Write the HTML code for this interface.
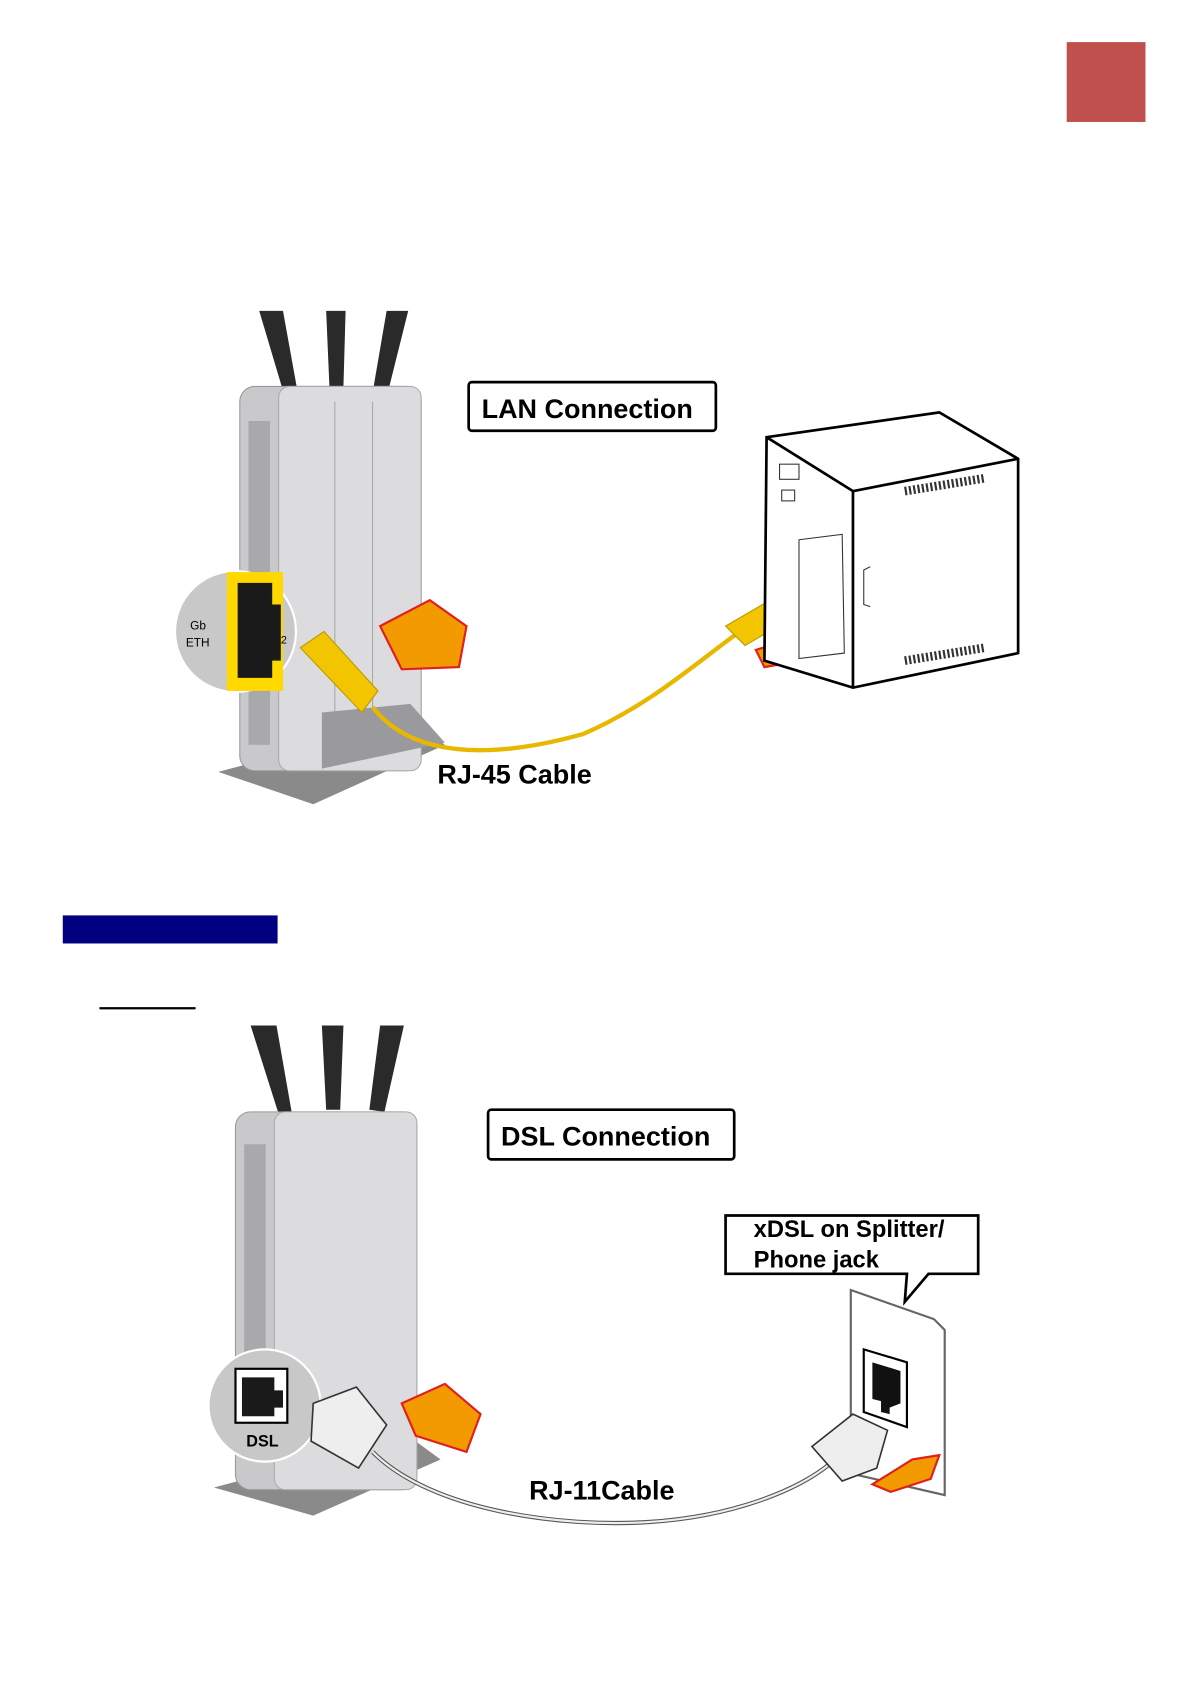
<!DOCTYPE html>
<html><head><meta charset="utf-8"><style>
html,body{margin:0;padding:0;background:#fff}
svg{display:block}
text{font-family:"Liberation Sans",sans-serif}
</style></head><body>
<svg width="1191" height="1684" viewBox="0 0 1103 1560" xmlns="http://www.w3.org/2000/svg">
<rect x="988" y="39" width="73" height="74" fill="#c0504d"/>
<rect x="58" y="848" width="199" height="26" fill="#000080"/>
<line x1="92" y1="934" x2="181" y2="934" stroke="#000" stroke-width="2"/>

<!-- ===== LAN router ===== -->
<g>
<path d="M240 288 L262 288 L275 360 L262 362 Z" fill="#2a2a2a"/>
<path d="M302 288 L320 288 L318 358 L305 358 Z" fill="#2a2a2a"/>
<path d="M358 288 L378 288 L360 360 L346 358 Z" fill="#2a2a2a"/>
<path d="M202 715 L380 668 L412 690 L290 745 Z" fill="#8a8a8a"/>
<rect x="222" y="358" width="168" height="356" rx="14" fill="#c9c9cb" stroke="#999"/>
<rect x="258" y="358" width="132" height="356" rx="10" fill="#dcdcde" stroke="#aaa"/>
<g stroke="#a8a8aa" stroke-width="1">
<line x1="310" y1="372" x2="310" y2="700"/><line x1="345" y1="372" x2="345" y2="700"/>
</g>
<rect x="230" y="390" width="20" height="300" fill="#a9a9ab"/>
<path d="M298 660 L380 652 L412 688 L298 712 Z" fill="#9a9a9c"/>
<circle cx="218" cy="585" r="56" fill="#c8c8c8" stroke="#fff" stroke-width="2"/>
<path d="M210 530 L210 640 L262 640 L262 530 Z" fill="#ffd800"/>
<path d="M220 540 L252 540 L252 560 L260 560 L260 612 L252 612 L252 628 L220 628 Z" fill="#1a1a1a"/>
<text x="176" y="583" font-size="11">Gb</text>
<text x="172" y="599" font-size="11">ETH</text>
<text x="260" y="596" font-size="10">2</text>
<path d="M352 580 L398 556 L432 580 L425 618 L372 620 Z" fill="#f29a00" stroke="#e02020" stroke-width="2"/>
<path d="M278 600 L300 585 L350 640 L335 660 Z" fill="#f2c500" stroke="#b89a00"/>
<path d="M345 655 C380 700, 450 705, 540 680 C610 650, 660 600, 700 575" fill="none" stroke="#e8b800" stroke-width="4"/>
<path d="M672 580 L720 552 L738 570 L690 598 Z" fill="#f2c500" stroke="#b89a00"/>
<path d="M700 602 L748 588 L752 610 L708 618 Z" fill="#f29a00" stroke="#e02020" stroke-width="2"/>
</g>

<!-- PC -->
<g stroke="#000" stroke-width="2.5" fill="#fff">
<path d="M710 405 L870 382 L943 425 L943 605 L790 637 L708 612 Z"/>
<path d="M790 455 L943 425" fill="none"/><path d="M710 405 L790 455 L790 637" fill="none"/>
</g>
<g stroke="#333" stroke-width="1" fill="none">
<rect x="722" y="430" width="18" height="14"/><rect x="724" y="454" width="12" height="10"/>
<path d="M740 500 L780 495 L782 605 L740 610 Z"/>
<path d="M806 525 L800 528 L800 560 L806 562"/>
<line x1="838" y1="455" x2="912" y2="443" stroke-dasharray="2 2" stroke-width="8"/>
<line x1="838" y1="612" x2="912" y2="600" stroke-dasharray="2 2" stroke-width="8"/>
</g>
<rect x="434" y="354" width="229" height="45" rx="3" fill="#fff" stroke="#000" stroke-width="2.5"/>
<text x="446" y="387" font-size="25" font-weight="bold">LAN Connection</text>
<text x="405" y="726" font-size="25" font-weight="bold">RJ-45 Cable</text>

<!-- ===== DSL router ===== -->
<g>
<path d="M232 950 L256 950 L270 1030 L258 1032 Z" fill="#2a2a2a"/>
<path d="M298 950 L318 950 L315 1028 L302 1028 Z" fill="#2a2a2a"/>
<path d="M352 950 L374 950 L356 1030 L342 1028 Z" fill="#2a2a2a"/>
<path d="M198 1378 L378 1330 L408 1352 L290 1404 Z" fill="#8a8a8a"/>
<rect x="218" y="1030" width="168" height="350" rx="14" fill="#c9c9cb" stroke="#999"/>
<rect x="254" y="1030" width="132" height="350" rx="10" fill="#dcdcde" stroke="#aaa"/>
<rect x="226" y="1060" width="20" height="230" fill="#a9a9ab"/>
<circle cx="245" cy="1302" r="52" fill="#c8c8c8" stroke="#fff" stroke-width="2"/>
<rect x="218" y="1268" width="48" height="50" fill="#fff" stroke="#000" stroke-width="2"/>
<path d="M224 1276 L254 1276 L254 1288 L262 1288 L262 1304 L254 1304 L254 1312 L224 1312 Z" fill="#1a1a1a"/>
<text x="228" y="1340" font-size="15" font-weight="bold">DSL</text>
<path d="M290 1300 L330 1285 L358 1320 L332 1360 L288 1335 Z" fill="#eee" stroke="#333" stroke-width="1.5"/>
<path d="M372 1300 L412 1282 L445 1310 L432 1345 L385 1330 Z" fill="#f29a00" stroke="#e02020" stroke-width="2"/>
<path d="M345 1345 C400 1400, 520 1415, 600 1410 C680 1405, 740 1380, 770 1355" fill="none" stroke="#555" stroke-width="4"/>
<path d="M345 1345 C400 1400, 520 1415, 600 1410 C680 1405, 740 1380, 770 1355" fill="none" stroke="#eee" stroke-width="2"/>
</g>
<!-- wall jack -->
<path d="M788 1195 L865 1222 L875 1232 L875 1385 L788 1365 Z" fill="#fff" stroke="#666" stroke-width="2"/>
<path d="M800 1250 L840 1262 L840 1322 L800 1308 Z" fill="#fff" stroke="#000" stroke-width="2"/>
<path d="M808 1262 L834 1270 L834 1300 L824 1304 L824 1310 L816 1308 L816 1298 L808 1296 Z" fill="#111"/>
<path d="M752 1340 L790 1310 L822 1325 L812 1360 L780 1372 Z" fill="#eee" stroke="#333" stroke-width="1.5"/>
<path d="M808 1375 L845 1352 L870 1348 L862 1370 L825 1382 Z" fill="#f29a00" stroke="#e02020" stroke-width="2"/>
<rect x="452" y="1028" width="228" height="46" rx="3" fill="#fff" stroke="#000" stroke-width="2.5"/>
<text x="464" y="1061" font-size="25" font-weight="bold">DSL Connection</text>
<path d="M672 1126 L906 1126 L906 1180 L860 1180 L838 1206 L840 1180 L672 1180 Z" fill="#fff" stroke="#000" stroke-width="2.5"/>
<text x="698" y="1146" font-size="22" font-weight="bold">xDSL on Splitter/</text>
<text x="698" y="1174" font-size="22" font-weight="bold">Phone jack</text>
<text x="490" y="1389" font-size="25" font-weight="bold">RJ-11Cable</text>
</svg>
</body></html>
